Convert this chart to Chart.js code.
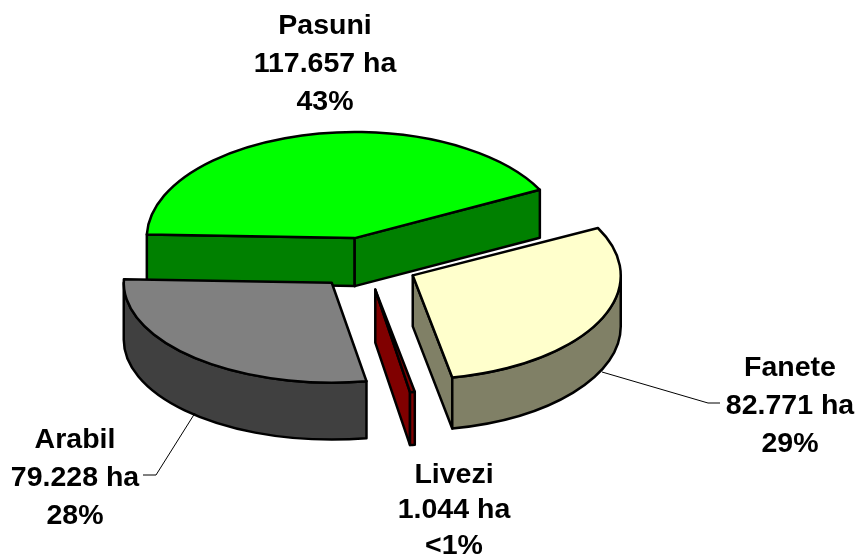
<!DOCTYPE html>
<html>
<head>
<meta charset="utf-8">
<title>Fond funciar</title>
<script src="https://cdn.jsdelivr.net/npm/chart.js@4"></script>
<style>
  html, body { margin: 0; padding: 0; background: #fff; }
  canvas { display: block; }
</style>
</head>
<body>
<canvas id="pie" width="856" height="554"></canvas>
<script>
// ------- Data --------------------------------------------------------------
const categories = ['Pasuni', 'Fanete', 'Livezi', 'Arabil'];
const areaHa     = [117657, 82771, 1044, 79228];
const areaLabels = ['117.657 ha', '82.771 ha', '1.044 ha', '79.228 ha'];
const pctLabels  = ['43%', '29%', '<1%', '28%'];

const topColours  = ['#00ff00', '#ffffcc', '#800000', '#808080'];
const wallColours = ['#008000', '#808066', '#800000', '#404040'];

// ------- Look of the fake 3D -----------------------------------------------
// the original has some perspective, so tilt and height differ a bit per slice
const SQUASH  = [0.51, 0.50, 0.50, 0.48];
const DEPTH   = [48, 51, 53, 57];
const EXPLODE = 52;     // how far each slice is pulled out
const FONT    = 'bold 28.5px "Liberation Sans", Arial, sans-serif';

// centre x, first line y, line height of each label block
const LABEL_POS = [[325, 26, 38], [790, 368, 38], [454, 475, 35.5], [75, 440, 38]];
const LEADERS   = [
  [[602, 372], [708, 403], [720, 403]],
  [[195, 413], [156, 475], [143, 475]]
];

// ---------------------------------------------------------------------------

function sliceOutline (ctx, arc, squash) {
  ctx.beginPath();
  ctx.moveTo(arc.x, arc.y);
  ctx.ellipse(arc.x, arc.y, arc.outerRadius, arc.outerRadius * squash, 0, arc.startAngle, arc.endAngle);
  ctx.closePath();
}

function paintFace (ctx, colour) {
  ctx.fillStyle = colour;
  ctx.fill();
  ctx.stroke();
}

function radialFace (ctx, arc, angle, squash, depth, colour) {
  const px = arc.x + Math.cos(angle) * arc.outerRadius;
  const py = arc.y + Math.sin(angle) * arc.outerRadius * squash;
  ctx.beginPath();
  ctx.moveTo(arc.x, arc.y);
  ctx.lineTo(px, py);
  ctx.lineTo(px, py + depth);
  ctx.lineTo(arc.x, arc.y + depth);
  ctx.closePath();
  paintFace(ctx, colour);
}

function outerWall (ctx, arc, squash, depth, colour) {
  const rx = arc.outerRadius, ry = rx * squash;
  // only the part of the rim on the front half of the disc can be seen
  for (let k = 0; k < 3; k++) {
    const a = Math.max(arc.startAngle, k * 2 * Math.PI);
    const b = Math.min(arc.endAngle, k * 2 * Math.PI + Math.PI);
    if (b <= a) continue;
    ctx.beginPath();
    ctx.ellipse(arc.x, arc.y, rx, ry, 0, a, b);
    ctx.ellipse(arc.x, arc.y + depth, rx, ry, 0, b, a, true);
    ctx.closePath();
    paintFace(ctx, colour);
  }
}

const pie3d = {
  id: 'pie3d',
  beforeDatasetDraw (chart, args) {
    const ctx = chart.ctx;
    ctx.lineWidth = 2.5;
    ctx.lineJoin = 'round';
    ctx.strokeStyle = '#000';

    args.meta.data.forEach((arc, i) => {
      const mid = (arc.startAngle + arc.endAngle) / 2;
      const squash = SQUASH[i], depth = DEPTH[i];
      ctx.save();
      ctx.translate(Math.cos(mid) * EXPLODE, Math.sin(mid) * EXPLODE * squash);

      // side walls, only those that face the viewer
      if (Math.cos(arc.startAngle) < 0) radialFace(ctx, arc, arc.startAngle, squash, depth, wallColours[i]);
      if (Math.cos(arc.endAngle) > 0) radialFace(ctx, arc, arc.endAngle, squash, depth, wallColours[i]);
      outerWall(ctx, arc, squash, depth, wallColours[i]);

      // top face comes from the library's own arc, flattened
      ctx.save();
      ctx.translate(0, arc.y);
      ctx.scale(1, squash);
      ctx.translate(0, -arc.y);
      arc.draw(ctx);
      ctx.restore();

      sliceOutline(ctx, arc, squash);
      ctx.stroke();
      ctx.restore();
    });
    return false;   // already drawn
  },
  afterDraw (chart) {
    const ctx = chart.ctx;
    ctx.save();
    ctx.lineWidth = 1;
    ctx.strokeStyle = '#000';
    LEADERS.forEach(pts => {
      ctx.beginPath();
      pts.forEach((p, i) => i ? ctx.lineTo(p[0], p[1]) : ctx.moveTo(p[0], p[1]));
      ctx.stroke();
    });

    ctx.font = FONT;
    ctx.fillStyle = '#000';
    ctx.textAlign = 'center';
    ctx.textBaseline = 'middle';
    categories.forEach((name, i) => {
      const [x, y, lh] = LABEL_POS[i];
      [name, areaLabels[i], pctLabels[i]].forEach((line, j) => {
        ctx.fillText(line, x, y + j * lh);
      });
    });
    ctx.restore();
  }
};

new Chart(document.getElementById('pie').getContext('2d'), {
  type: 'pie',
  data: {
    labels: categories,
    datasets: [{
      data: areaHa,
      backgroundColor: topColours,
      borderWidth: 0
    }]
  },
  options: {
    responsive: false,
    animation: false,
    rotation: 272,
    radius: 208,
    layout: { padding: { right: 124, bottom: 26 } },
    plugins: { legend: { display: false }, tooltip: { enabled: false } }
  },
  plugins: [pie3d]
});
</script>
</body>
</html>
